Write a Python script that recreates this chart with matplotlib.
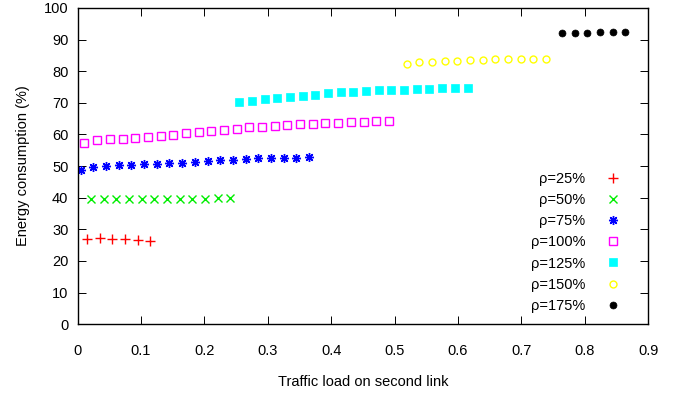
import numpy as np
import matplotlib
matplotlib.use("Agg")
import matplotlib.pyplot as plt

plt.rcParams['font.family'] = ['Liberation Sans', 'DejaVu Sans']
plt.rcParams['font.size'] = 10.5

# traffic load on the second link for each rho setting
load_25 = [0.015, 0.035, 0.055, 0.075, 0.095, 0.115]
load_50 = [0.021, 0.041, 0.061, 0.081, 0.101, 0.121, 0.141, 0.161, 0.181, 0.201, 0.221, 0.241]
load_75 = [0.005, 0.025, 0.045, 0.065, 0.085, 0.105, 0.125, 0.145, 0.165, 0.185,
           0.205, 0.225, 0.245, 0.265, 0.285, 0.305, 0.325, 0.345, 0.365]
load_100 = [0.011, 0.031, 0.051, 0.071, 0.091, 0.111, 0.131, 0.151, 0.171, 0.191,
            0.211, 0.231, 0.251, 0.271, 0.291, 0.311, 0.331, 0.351, 0.371, 0.391,
            0.411, 0.431, 0.451, 0.471, 0.491]
load_125 = [0.255, 0.275, 0.295, 0.315, 0.335, 0.355, 0.375, 0.395, 0.415, 0.435,
            0.455, 0.475, 0.495, 0.515, 0.535, 0.555, 0.575, 0.595, 0.615]
load_150 = [0.519, 0.539, 0.559, 0.579, 0.599, 0.619, 0.639, 0.659, 0.679, 0.699, 0.719, 0.739]
load_175 = [0.764, 0.784, 0.804, 0.824, 0.844, 0.864]

# energy consumption (%)
energy_25 = [27.1, 27.2, 27.1, 26.8, 26.6, 26.4]
energy_50 = [39.6, 39.7, 39.7, 39.7, 39.6, 39.6, 39.5, 39.6, 39.6, 39.7, 39.8, 39.9]
energy_75 = [48.8, 49.8, 50.1, 50.2, 50.4, 50.5, 50.6, 50.9, 51.0, 51.3,
             51.6, 51.8, 52.0, 52.2, 52.4, 52.5, 52.6, 52.7, 52.8]
energy_100 = [57.4, 58.1, 58.4, 58.7, 58.9, 59.3, 59.6, 59.9, 60.3, 60.8,
              61.1, 61.4, 61.8, 62.2, 62.5, 62.8, 63.0, 63.2, 63.4, 63.6,
              63.7, 63.9, 64.0, 64.1, 64.2]
energy_125 = [70.1, 70.6, 71.1, 71.5, 71.9, 72.2, 72.6, 73.0, 73.3, 73.5,
              73.7, 73.9, 74.1, 74.2, 74.4, 74.5, 74.6, 74.7, 74.7]
energy_150 = [82.4, 82.8, 83.0, 83.2, 83.3, 83.5, 83.6, 83.7, 83.8, 83.9, 83.9, 84.0]
energy_175 = [92.2, 92.2, 92.2, 92.3, 92.3, 92.4]

labels = ['ρ=25%', 'ρ=50%', 'ρ=75%', 'ρ=100%', 'ρ=125%', 'ρ=150%', 'ρ=175%']

xticks = [0, 0.1, 0.2, 0.3, 0.4, 0.5, 0.6, 0.7, 0.8, 0.9]
xticklabels = ['0', '0.1', '0.2', '0.3', '0.4', '0.5', '0.6', '0.7', '0.8', '0.9']
yticks = list(range(0, 101, 10))

fig = plt.figure(figsize=(6.86, 3.94), dpi=100)
ax = fig.add_axes([0.113, 0.177, 0.832, 0.803])

ax.plot(load_25, energy_25, ls='none', marker='+', ms=6.5, mew=1.0, color='#ff0000', label=labels[0])
ax.plot(load_50, energy_50, ls='none', marker='x', ms=5.5, mew=1.0, color='#00ee00', label=labels[1])
ax.plot(load_75, energy_75, ls='none', marker=(8, 2, 0), ms=6.5, mew=1.0, color='#0000ff', label=labels[2])
ax.plot(load_100, energy_100, ls='none', marker='s', ms=5.2, mew=1.0, mfc='none', color='#ff00ff', label=labels[3])
ax.plot(load_125, energy_125, ls='none', marker='s', ms=5.5, mew=0.5, color='#00ffff', label=labels[4])
ax.plot(load_150, energy_150, ls='none', marker='o', ms=5, mew=1.0, mfc='none', color='#ffff00', label=labels[5])
ax.plot(load_175, energy_175, ls='none', marker='o', ms=5, mew=0.5, color='black', label=labels[6])

ax.set_xlim(0, 0.9)
ax.set_ylim(0, 100)
ax.set_xticks(xticks)
ax.set_xticklabels(xticklabels)
ax.set_yticks(yticks)
ax.tick_params(direction='in', length=6, width=0.7, top=True, right=True)
ax.tick_params(axis='x', pad=14)
ax.tick_params(axis='y', pad=6.5)
for s in ax.spines.values():
    s.set_linewidth(1.0)

ax.set_xlabel('Traffic load on second link', labelpad=12.5)
ax.set_ylabel('Energy consumption (%)', labelpad=10)

ax.legend(loc='lower right', bbox_to_anchor=(0.951, 0.036), frameon=False,
          markerfirst=False, handlelength=1.0, handletextpad=1.4,
          labelspacing=0.49, borderpad=0, borderaxespad=0, numpoints=1)

fig.savefig('out.png', dpi=100)
